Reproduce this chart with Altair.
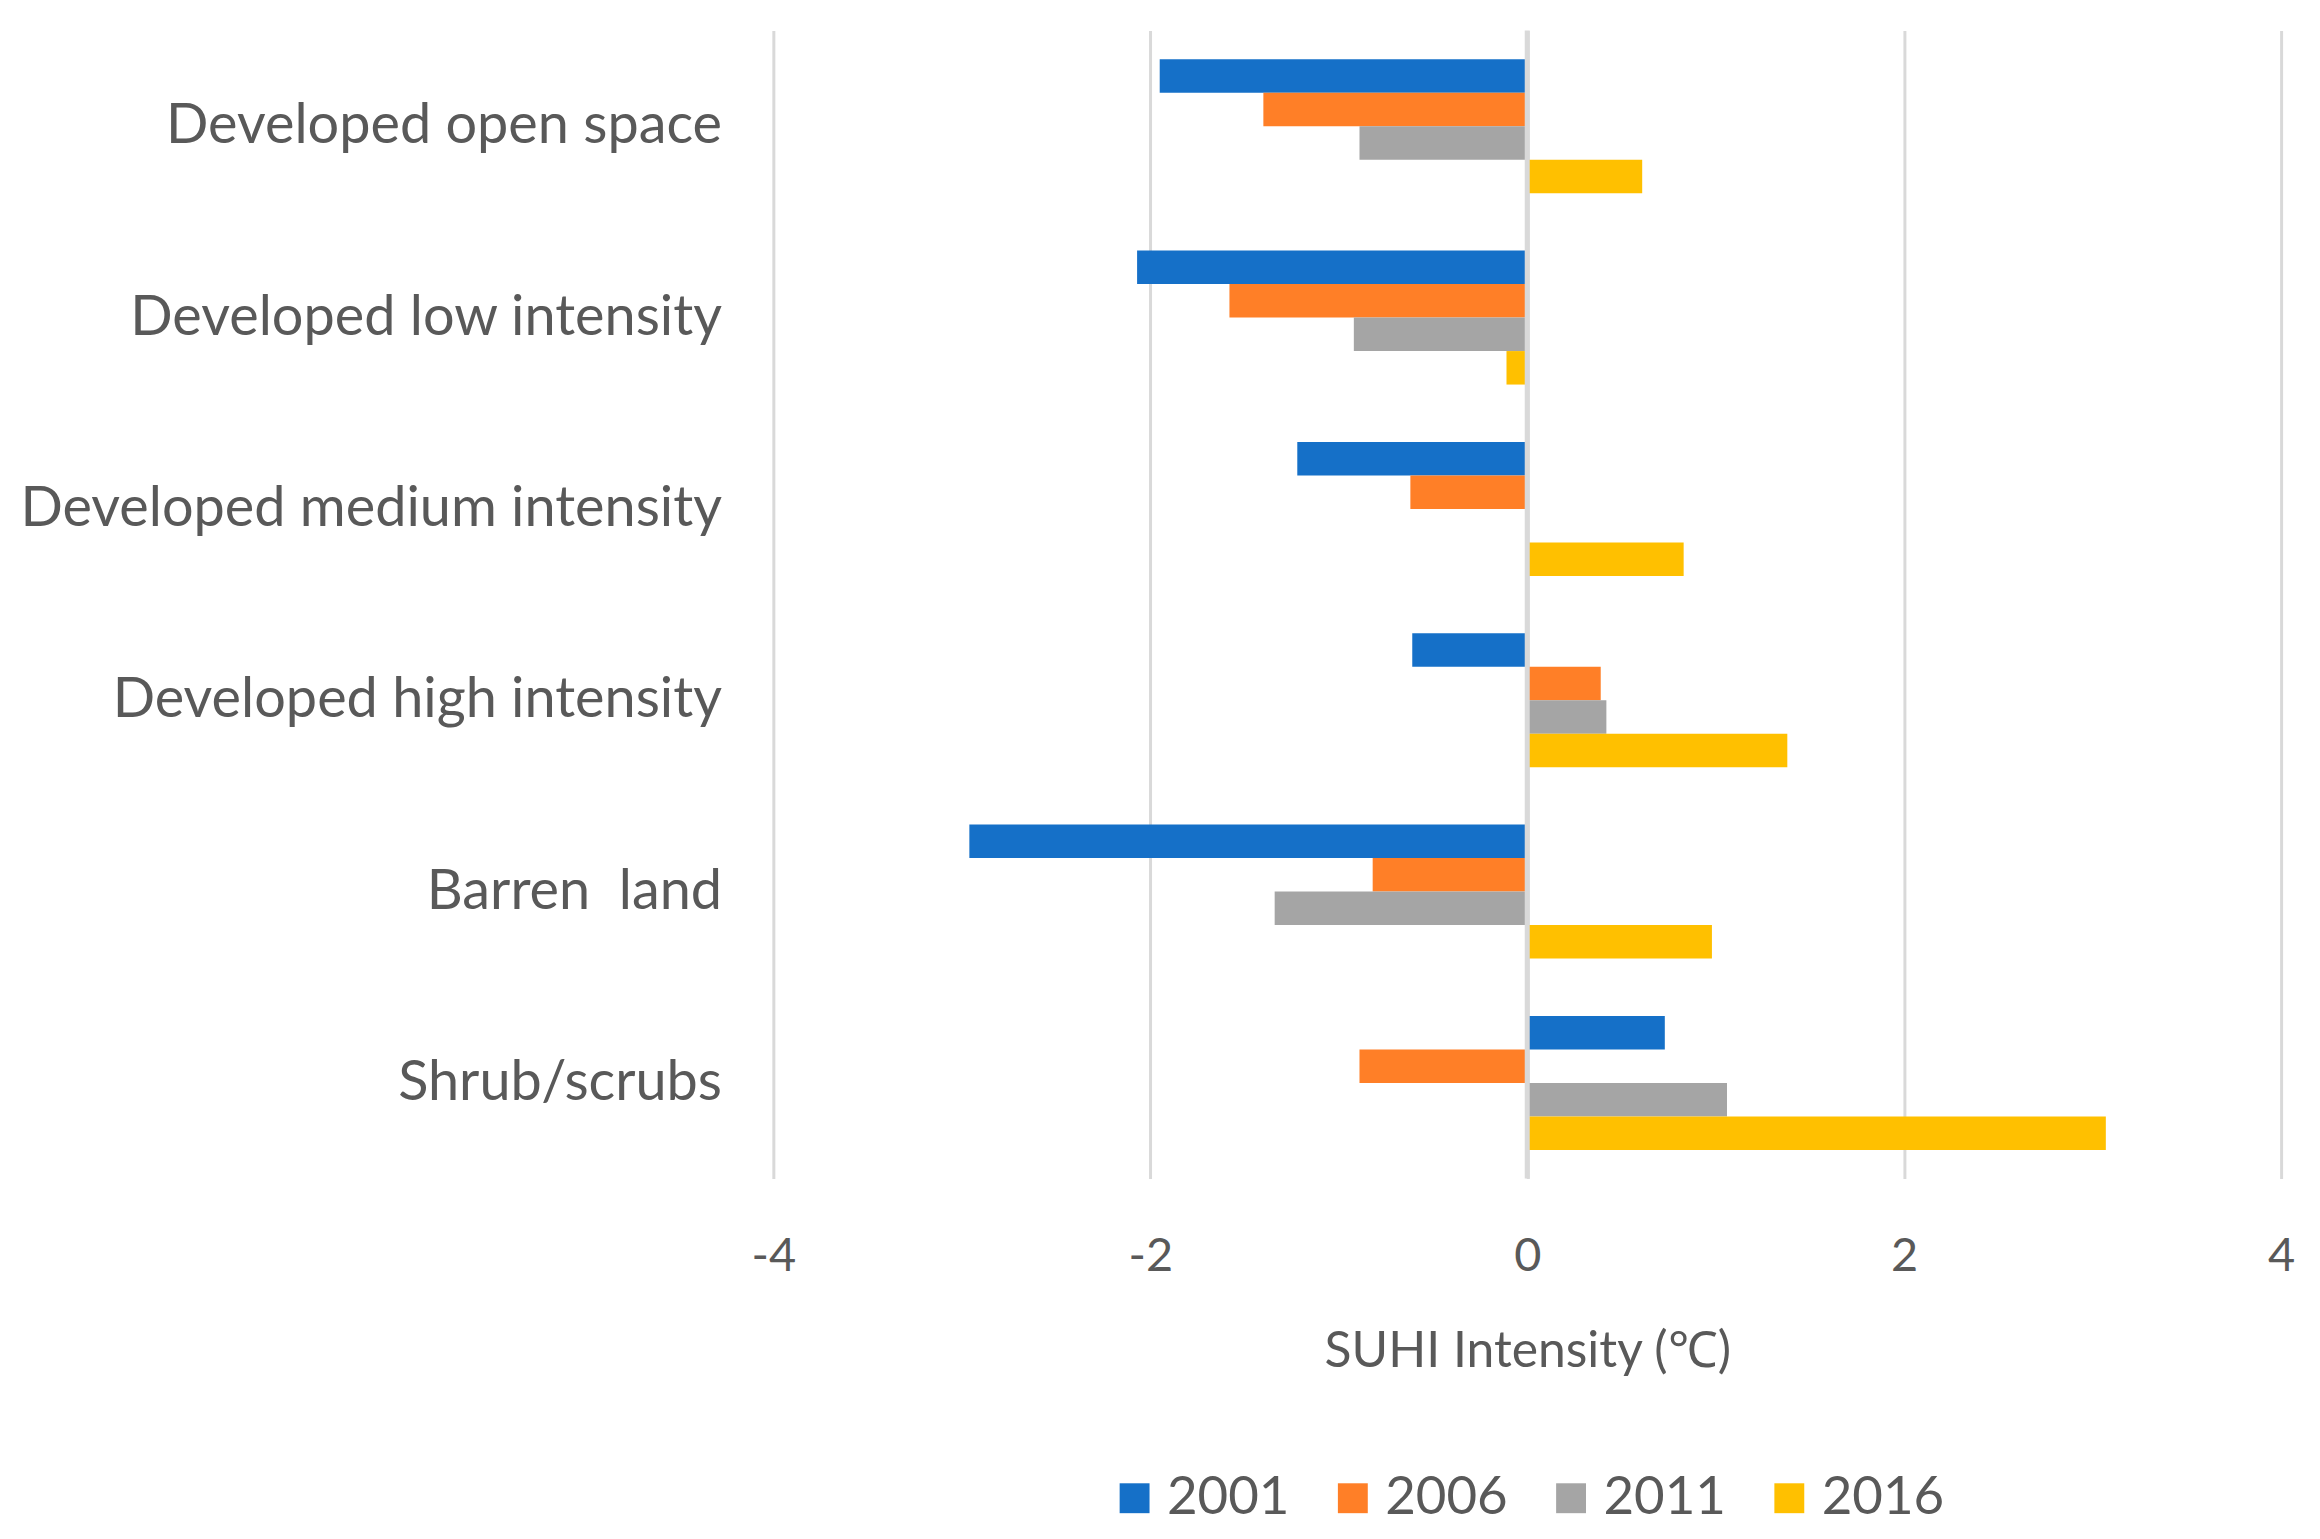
import altair as alt
import pandas as pd

categories = ["Developed open space", "Developed low intensity", "Developed medium intensity",
              "Developed high intensity", "Barren\u00a0\u00a0land", "Shrub/scrubs"]
years = ["2001", "2006", "2011", "2016"]
v2001 = [-1.95, -2.07, -1.22, -0.61, -2.96, 0.73]
v2006 = [-1.40, -1.58, -0.62, 0.39, -0.82, -0.89]
v2011 = [-0.89, -0.92, 0.0, 0.42, -1.34, 1.06]
v2016 = [0.61, -0.11, 0.83, 1.38, 0.98, 3.07]
colors = ["#1570C8", "#FF7F27", "#A5A5A5", "#FFC000"]
x_ticks = [-4, -2, 0, 2, 4]

rows = []
for yr, vals in zip(years, [v2001, v2006, v2011, v2016]):
    for c, v in zip(categories, vals):
        rows.append({"category": c, "year": yr, "value": v})
df = pd.DataFrame(rows)

FONT = "Lato"
GREY = "#595959"

bars = alt.Chart(df).mark_bar().encode(
    y=alt.Y("category:N", sort=categories, title=None,
            scale=alt.Scale(paddingInner=0.3, paddingOuter=0.15),
            axis=alt.Axis(domain=False, ticks=False, grid=False, labelFont=FONT,
                          labelFontSize=56, labelColor=GREY, labelPadding=52,
                          labelLimit=1000)),
    yOffset=alt.YOffset("year:N", sort=years, scale=alt.Scale(paddingInner=0, paddingOuter=0)),
    x=alt.X("value:Q", title="SUHI Intensity (℃)",
            scale=alt.Scale(domain=[-4, 4], nice=False),
            axis=alt.Axis(values=x_ticks, domain=False, ticks=False, grid=True,
                          gridColor="#D9D9D9", gridWidth=3, labelFont=FONT,
                          labelExpr="(datum.value < 0 ? '-' : '') + abs(datum.value)",
                          labelFlush=False,
                          labelFontSize=47, labelColor=GREY, labelPadding=55,
                          titleFont=FONT, titleFontSize=50, titleColor=GREY,
                          titleFontWeight="normal", titlePadding=48)),
    color=alt.Color("year:N", sort=years, scale=alt.Scale(domain=years, range=colors),
                    legend=alt.Legend(title=None, orient="none", legendX=336, legendY=1446,
                                      direction="horizontal", symbolType="square",
                                      symbolSize=900, symbolStrokeWidth=0,
                                      labelFont=FONT, labelFontSize=53, labelColor=GREY,
                                      labelOffset=6, columnPadding=37)),
)

zero_line = alt.Chart(pd.DataFrame({"v": [0]})).mark_rule(color="#D9D9D9", strokeWidth=5).encode(
    x=alt.X("v:Q")
)

chart = alt.layer(bars, zero_line).properties(
    width=1513, height=1152,
    autosize=alt.AutoSizeParams(type="none"),
    padding={"left": 768, "top": 20, "right": 31, "bottom": 359},
).configure_view(stroke=None)

chart.save("out.html", embed_options={"renderer": "svg", "actions": False})
